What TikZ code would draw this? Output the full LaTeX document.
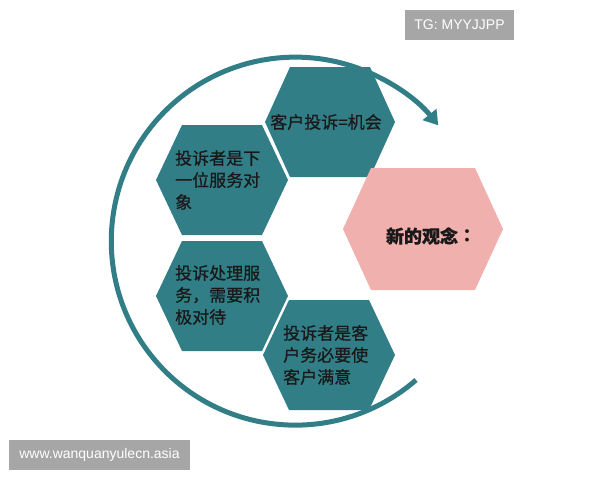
\documentclass[tikz,border=0pt]{standalone}
\usepackage{fontspec}
\setmainfont{Liberation Sans}
\newfontfamily\cjk[FakeBold=0.6]{Noto Sans CJK SC}
\newfontfamily\cjktc{Noto Sans CJK TC}
\usetikzlibrary{arrows.meta}
\definecolor{teal1}{RGB}{50,126,135}
\definecolor{pink1}{RGB}{240,176,174}
\definecolor{wmgray}{RGB}{166,166,166}
\definecolor{txt}{RGB}{25,25,25}
% cx, cy, half-width, top half-width, half-height, colour
\newcommand\hexshape[6]{%
  \fill[#6] (#1-#3,#2) -- (#1-#4,#2-#5) -- (#1+#4,#2-#5) -- (#1+#3,#2)
    -- (#1+#4,#2+#5) -- (#1-#4,#2+#5) -- cycle;}
\begin{document}
\begin{tikzpicture}[x=1pt,y=-1pt,
  hextext/.style={font=\cjk\fontsize{17}{22}\selectfont, text=txt, align=left, inner sep=0pt, anchor=west},
  keytext/.style={font=\cjk\bfseries\fontsize{18}{22}\selectfont, text=txt, inner sep=0pt},
  wmark/.style={fill=wmgray, text=white, font=\fontsize{14}{16}\selectfont, minimum height=30pt, inner sep=0pt},
  ring/.style={draw=teal1, line width=5pt, -{Triangle[length=14pt,width=17pt]}}]
\useasboundingbox (0,0) rectangle (600,480);
\fill[white] (0,0) rectangle (600,480);
% hexagons
\hexshape{330}{122}{65}{40}{55}{teal1}
\hexshape{222}{180}{66}{40}{55}{teal1}
\hexshape{222}{296}{66}{40}{55}{teal1}
\hexshape{329}{355}{66}{40}{55}{teal1}
\hexshape{423}{229}{80}{52}{61}{pink1}
% texts
\node[hextext, anchor=center] (t1) at (326,122) {客户投诉=机会};
\node[hextext] (t2) at (175,180) {投诉者是下\\一位服务对\\象};
\node[hextext] (t3) at (175,295) {投诉处理服\\务，需要积\\极对待};
\node[hextext] (t4) at (283,355) {投诉者是客\\户务必要使\\客户满意};
\node[keytext] (t5) at (431,236) {新的观念{\cjktc\bfseries ：}};
% ring arrow
\coordinate (arcstart) at (416,380);
\draw[ring] (arcstart) arc[start angle=49, end angle=321, radius=184];
% watermarks
\node[wmark, minimum width=109pt] (tg) at (459.5,25) {TG: MYYJJPP};
\node[wmark, minimum width=181pt] (web) at (99.5,455) {www.wanquanyulecn.asia};
\end{tikzpicture}
\end{document}
